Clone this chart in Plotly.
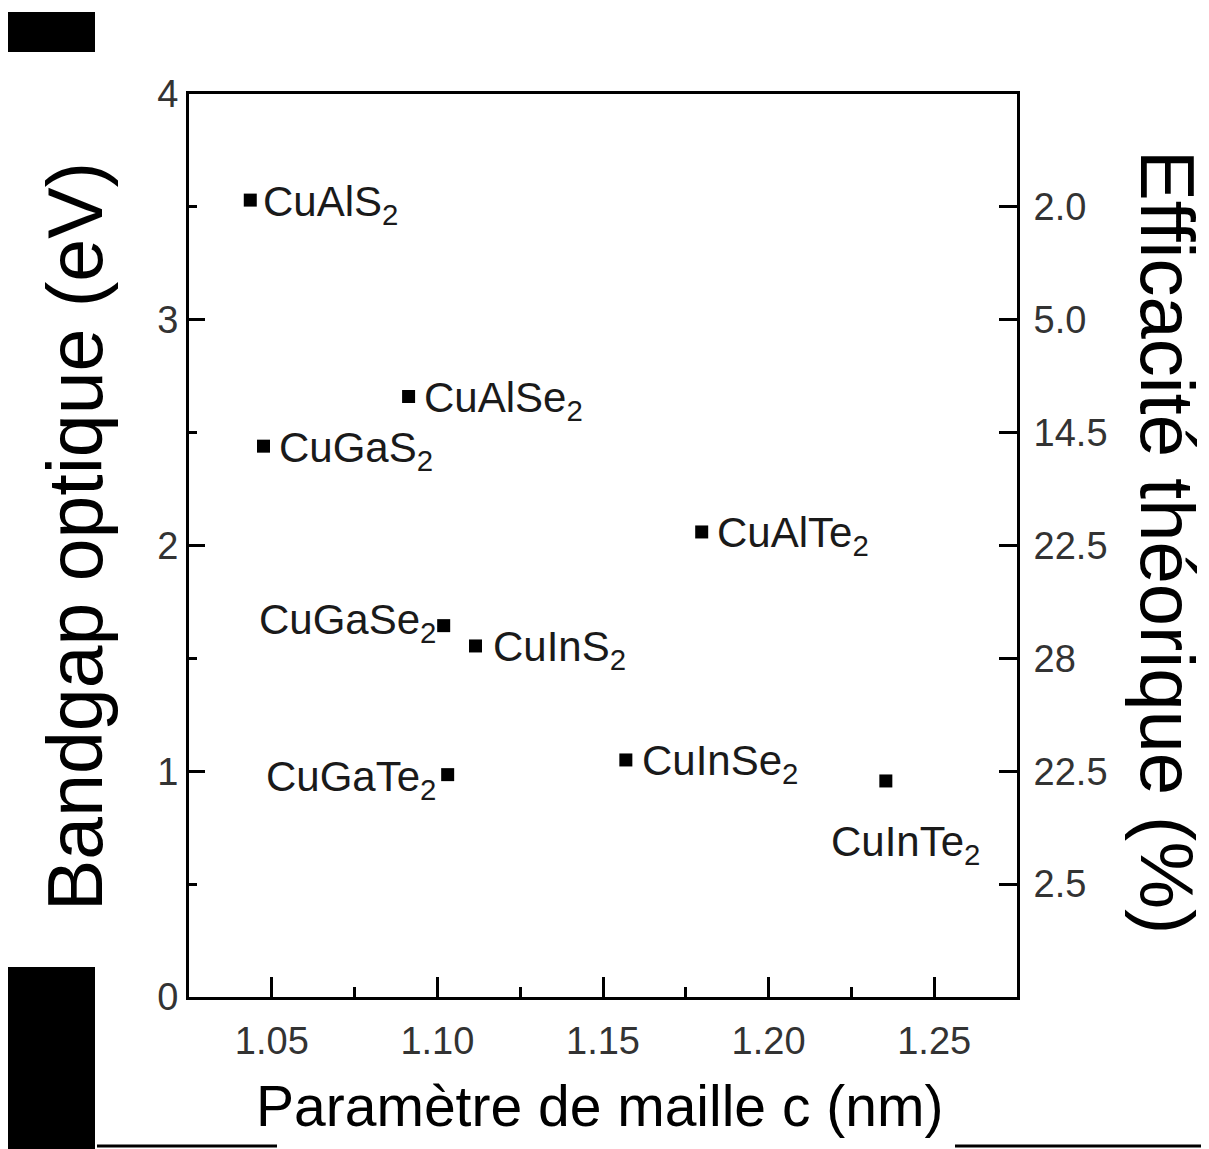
import plotly.graph_objects as go

# ---- data ----
compounds = ["CuAlS<sub>2</sub>", "CuAlSe<sub>2</sub>", "CuGaS<sub>2</sub>", "CuAlTe<sub>2</sub>",
             "CuGaSe<sub>2</sub>", "CuInS<sub>2</sub>", "CuGaTe<sub>2</sub>", "CuInSe<sub>2</sub>",
             "CuInTe<sub>2</sub>"]
c_param = [1.0435, 1.0913, 1.0475, 1.1798, 1.1019, 1.1115, 1.1031, 1.1569, 1.2354]
bandgap = [3.53, 2.66, 2.44, 2.06, 1.645, 1.555, 0.985, 1.05, 0.957]

right_tickvals = [0.5, 1.0, 1.5, 2.0, 2.5, 3.0, 3.5]
right_ticktext = ["2.5", "22.5", "28", "22.5", "14.5", "5.0", "2.0"]

# label placement (style): anchor, xshift, yshift
label_style = [
    ("left", 11, -4), ("left", 13, -4), ("left", 13, -4), ("left", 13, -4),
    ("right", -6, 3), ("left", 16, -4), ("right", -10, -5), ("left", 14, -4),
    ("center", 20, -64),
]

PAGE_OFF = 8                      # browser body margin
W_REF, H_REF = 1209, 1149
W, H = W_REF - PAGE_OFF, H_REF - PAGE_OFF
L, R, T, B = 189, 1017, 94, 997   # plot area in reference pixels

def px(xp):
    return (xp - L) / (R - L)

def py(yp):
    return (B - yp) / (B - T)

FONT = "Liberation Sans, Arial, Helvetica"

fig = go.Figure()
fig.add_trace(go.Scatter(
    x=c_param, y=bandgap, mode="markers",
    marker=dict(symbol="square", size=13, color="black"),
    showlegend=False, hoverinfo="skip"))
fig.add_trace(go.Scatter(x=[1.1], y=[2], yaxis="y2", mode="markers",
                         marker=dict(opacity=0), showlegend=False, hoverinfo="skip"))

annotations = []
for name, xv, yv, (anc, xs, ys) in zip(compounds, c_param, bandgap, label_style):
    annotations.append(dict(
        x=xv, y=yv, xref="x", yref="y", text=name, showarrow=False,
        xanchor=anc, yanchor="middle", xshift=xs, yshift=ys,
        font=dict(family=FONT, size=42, color="#1a1a1a")))

# axis titles
annotations.append(dict(x=px(599), y=py(1106), xref="paper", yref="paper",
                        text="Paramètre de maille c (nm)", showarrow=False,
                        xanchor="center", yanchor="middle",
                        font=dict(family=FONT, size=57, color="black")))
annotations.append(dict(x=px(75), y=py(537), xref="paper", yref="paper",
                        text="Bandgap optique (eV)", showarrow=False, textangle=-90,
                        xanchor="center", yanchor="middle",
                        font=dict(family=FONT, size=77, color="black")))
annotations.append(dict(x=px(1168), y=py(542), xref="paper", yref="paper",
                        text="Efficacité théorique (%)", showarrow=False, textangle=90,
                        xanchor="center", yanchor="middle",
                        font=dict(family=FONT, size=76, color="black")))

shapes = [
    dict(type="rect", xref="paper", yref="paper", x0=px(7), x1=px(95), y0=py(52), y1=py(12),
         fillcolor="black", line=dict(width=0)),
    dict(type="rect", xref="paper", yref="paper", x0=px(7), x1=px(95), y0=py(1149), y1=py(967),
         fillcolor="black", line=dict(width=0)),
    dict(type="line", xref="paper", yref="paper", x0=px(97), x1=px(277), y0=py(1146), y1=py(1146),
         line=dict(color="black", width=3)),
    dict(type="line", xref="paper", yref="paper", x0=px(955), x1=px(1209), y0=py(1146), y1=py(1146),
         line=dict(color="black", width=3)),
]

tickfont = dict(family=FONT, size=38, color="#333333")

fig.update_layout(
    width=W, height=H,
    margin=dict(l=L - PAGE_OFF, r=W_REF - R, t=T - PAGE_OFF, b=H_REF - B, pad=0),
    paper_bgcolor="white", plot_bgcolor="white",
    annotations=annotations, shapes=shapes,
    xaxis=dict(range=[1.025, 1.275], showgrid=False, zeroline=False,
               showline=True, linecolor="black", linewidth=3, mirror=True,
               ticks="inside", ticklen=20, tickwidth=3, tickcolor="black",
               tick0=1.05, dtick=0.05, tickformat=".2f",
               minor=dict(ticks="inside", ticklen=10, tickwidth=3, tickcolor="black",
                          dtick=0.025, tick0=1.025, showgrid=False),
               tickfont=tickfont, ticklabelstandoff=8),
    yaxis=dict(range=[0, 4], showgrid=False, zeroline=False,
               showline=True, linecolor="black", linewidth=3,
               ticks="inside", ticklen=16, tickwidth=3, tickcolor="black",
               tick0=0, dtick=1,
               minor=dict(ticks="inside", ticklen=8, tickwidth=3, tickcolor="black",
                          dtick=0.5, showgrid=False),
               tickfont=tickfont, ticklabelstandoff=0),
    yaxis2=dict(range=[0, 4], overlaying="y", side="right", showgrid=False, zeroline=False,
                showline=True, linecolor="black", linewidth=3,
                ticks="inside", ticklen=18, tickwidth=3, tickcolor="black",
                tickmode="array", tickvals=right_tickvals, ticktext=right_ticktext,
                tickfont=tickfont, ticklabelstandoff=6),
)

fig.write_html("out.html")
